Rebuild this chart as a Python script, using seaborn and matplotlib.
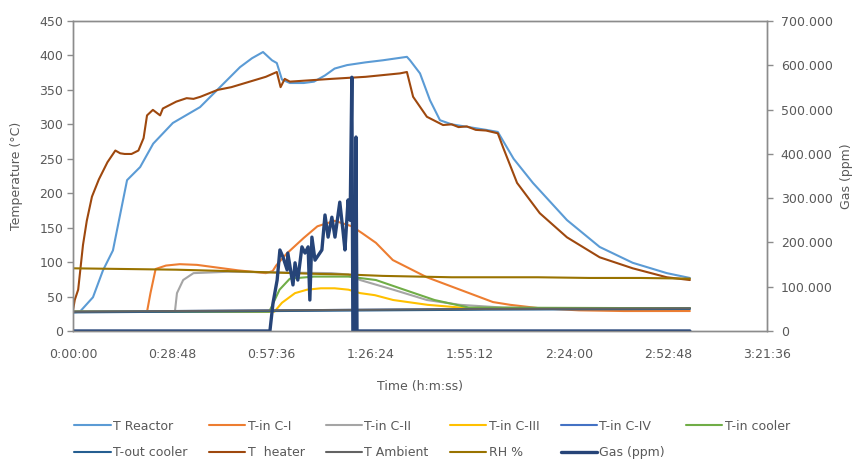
import matplotlib
matplotlib.use("Agg")
import matplotlib.pyplot as plt
import seaborn as sns
import pandas as pd
from matplotlib.ticker import FixedLocator, FixedFormatter

# ---------------- data (time in minutes) ----------------
reactor_t = [0, 2, 5.8, 8.7, 11.6, 12.2, 15.7, 19.5, 23.3, 29, 36.9, 44.7, 48.5, 52, 55.2, 57.8, 59.2, 60.7,
             63, 67, 70, 73.2, 76, 79.6, 85, 90, 97, 97.9, 100.8, 103.7, 106.6, 110, 115, 120, 123.4,
             128, 133.6, 143.5, 153, 162.6, 172.5, 179.2]
reactor_v = [27, 28, 49, 88, 117, 132, 219, 238, 272, 302, 325, 364, 383, 396, 405, 393, 389, 365,
             360, 360, 362, 371, 381, 386, 390, 393, 398, 393, 374, 335, 306, 300, 296, 292, 289,
             250, 215, 161, 122, 99, 84, 77]

c1_t = [0, 21.5, 22.5, 24, 27, 31, 36, 42, 48, 52, 56, 58, 59, 62, 67, 71, 76, 81, 84, 88, 92.9,
        102.8, 112.4, 122, 127, 135.6, 147, 160, 179.2]
c1_v = [28, 28, 55, 90, 95, 97, 96, 92, 88, 86, 84, 87, 95, 112, 135, 152, 160, 152, 142, 128, 103,
        78, 60, 42, 38, 33, 30, 29, 29]

c2_t = [0, 29.6, 30.2, 32, 35, 45, 60, 75, 80, 83.4, 93, 102.8, 112.4, 125, 140, 179.2]
c2_v = [28, 28, 55, 74, 84, 86, 85, 84, 82, 74, 60, 45, 38, 34, 33, 33]

c3_t = [0, 58.5, 60.7, 64.5, 68, 72, 76, 80, 83.4, 87.7, 93, 103, 115, 130, 179.2]
c3_v = [28, 28, 41, 55, 60, 62, 62, 60, 55, 52, 45, 38, 33, 32, 33]

c4_t = [0, 60, 120, 179.2]
c4_v = [28, 30, 32, 33]

cooler_t = [0, 57, 60, 63, 70, 80, 88, 95, 105, 115, 179.2]
cooler_v = [28, 28, 60, 76, 79, 79, 74, 62, 45, 34, 33]

outcool_t = [0, 60, 120, 179.2]
outcool_v = [27, 29, 31, 32]

heater_t = [0, 0.5, 1.5, 2.9, 4, 5.5, 7.5, 10, 12.3, 13.7, 15, 17, 19, 20.5, 21.5, 23.2, 25.3, 26.1,
            30, 33, 35, 37, 42, 46, 50, 56, 59.2, 60.3, 61.5, 63, 75, 85, 95, 97, 98.8, 102.8, 107.5,
            110, 112, 114.4, 117, 120, 123.4, 124.9, 129, 135.6, 143.5, 153, 162.6, 172.5, 179.2]
heater_v = [30, 45, 60, 125, 160, 195, 220, 245, 262, 258, 257, 257, 262, 280, 313, 321, 313, 323,
            333, 338, 337, 340, 350, 354, 360, 369, 376, 354, 366, 362, 366, 369, 374, 376, 340, 311, 299,
            300, 296, 297, 292, 291, 287, 267, 215, 171, 136, 107, 91, 78, 74]

ambient_t = [0, 60, 120, 179.2]
ambient_v = [28, 30, 32, 33]

rh_t = [0, 15, 30, 45, 58, 70, 80, 90, 100, 110, 120, 135, 150, 165, 179.2]
rh_v = [91, 90, 89, 87, 85, 83, 82, 80, 79, 78, 78, 78, 77, 77, 76]

gas_t = [0, 57.2, 58.1, 59.3, 60.1, 61.0, 62.2, 62.4, 63.9, 64.5, 65.3, 66.5, 67.4, 68.3, 68.8, 69.4,
         70.3, 72.3, 73.2, 74.1, 75.2, 76.1, 77.5, 78.4, 79.0, 79.9, 80.5, 81.0, 81.3, 81.9, 82.2,
         82.5, 179.2]
gas_v = [0, 0, 63, 115, 183, 167, 138, 176, 104, 154, 115, 190, 176, 190, 70, 212,
         160, 183, 262, 212, 257, 212, 291, 228, 183, 296, 250, 573, 0, 0, 438,
         0, 0]

x_ticks = [0, 28.8, 57.6, 86.4, 115.2, 144.0, 172.8, 201.6]
x_labels = ["0:00:00", "0:28:48", "0:57:36", "1:26:24", "1:55:12", "2:24:00", "2:52:48", "3:21:36"]
y_ticks = [0, 50, 100, 150, 200, 250, 300, 350, 400, 450]
y2_ticks = [0, 100, 200, 300, 400, 500, 600, 700]
y2_labels = ["0", "100.000", "200.000", "300.000", "400.000", "500.000", "600.000", "700.000"]

series = [
    ("T Reactor", reactor_t, reactor_v, "#5B9BD5"),
    ("T-in C-I", c1_t, c1_v, "#ED7D31"),
    ("T-in C-II", c2_t, c2_v, "#A5A5A5"),
    ("T-in C-III", c3_t, c3_v, "#FFC000"),
    ("T-in C-IV", c4_t, c4_v, "#4472C4"),
    ("T-in cooler", cooler_t, cooler_v, "#70AD47"),
    ("T-out cooler", outcool_t, outcool_v, "#255E91"),
    ("T  heater", heater_t, heater_v, "#9E480E"),
    ("T Ambient", ambient_t, ambient_v, "#636363"),
    ("RH %", rh_t, rh_v, "#997300"),
]

# ---------------- plot ----------------
sns.set_style("white")
plt.rcParams['font.family'] = ['DejaVu Sans']
txt = "#595959"
spine = "#8C8C8C"
fs = 9

fig = plt.figure(figsize=(8.56, 4.61), dpi=100)
ax = fig.add_axes([0.0853, 0.282, 0.8107, 0.6724])
ax2 = ax.twinx()

handles = {}
for name, t, v, col in series:
    df = pd.DataFrame({"t": t, "v": v})
    sns.lineplot(data=df, x="t", y="v", ax=ax, color=col, lw=1.5, sort=False,
                 estimator=None, label=name, legend=False)
    handles[name] = ax.lines[-1]

gdf = pd.DataFrame({"t": gas_t, "v": gas_v})
sns.lineplot(data=gdf, x="t", y="v", ax=ax2, color="#264478", lw=2.4, sort=False,
             estimator=None, legend=False)
handles["Gas (ppm)"] = ax2.lines[-1]

ax.set_xlim(0, 201.6)
ax.set_ylim(0, 450)
ax2.set_ylim(0, 700)
ax.xaxis.set_major_locator(FixedLocator(x_ticks))
ax.xaxis.set_major_formatter(FixedFormatter(x_labels))
ax.set_yticks(y_ticks)
ax2.yaxis.set_major_locator(FixedLocator(y2_ticks))
ax2.yaxis.set_major_formatter(FixedFormatter(y2_labels))

for a in (ax, ax2):
    for s in a.spines.values():
        s.set_color(spine)
        s.set_linewidth(1.0)
    a.tick_params(colors=txt, labelsize=fs, length=4, width=1, direction="out", color=spine)
    a.grid(False)
ax.tick_params(axis="x", pad=8)
ax.tick_params(axis="y", pad=3)
ax2.tick_params(axis="y", pad=6)

ax.set_xlabel("Time (h:m:ss)", fontsize=fs, color=txt, labelpad=14)
ax.set_ylabel("Temperature (°C)", fontsize=fs, color=txt, labelpad=12)
ax2.set_ylabel("Gas (ppm)", fontsize=fs, color=txt, labelpad=5)

order = ["T Reactor", "T-out cooler", "T-in C-I", "T  heater", "T-in C-II", "T Ambient",
         "T-in C-III", "RH %", "T-in C-IV", "Gas (ppm)", "T-in cooler"]
leg = fig.legend([handles[n] for n in order], order, loc="center", bbox_to_anchor=(0.505, 0.047),
                 ncol=6, frameon=False, fontsize=fs, handlelength=2.9, columnspacing=1.7,
                 handletextpad=0.2, labelspacing=1.05, borderpad=0.2)
for t in leg.get_texts():
    t.set_color(txt)

fig.savefig("out.png", dpi=100)
